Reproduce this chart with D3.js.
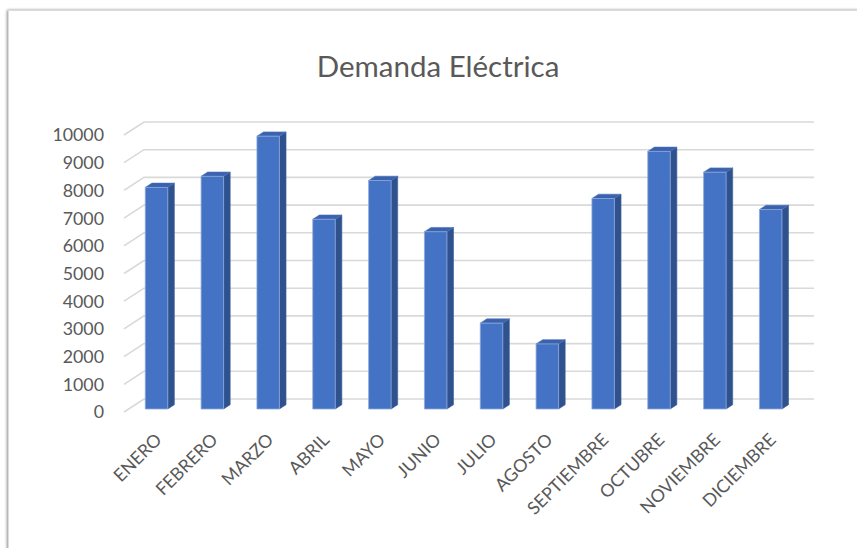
<!DOCTYPE html>
<html>
<head>
<meta charset="utf-8">
<script src="https://cdn.jsdelivr.net/npm/d3@7"></script>
<style>
  html, body { margin: 0; padding: 0; background: #ffffff; }
  svg { display: block; }
</style>
</head>
<body>
<svg id="chart" width="857" height="548"></svg>
<script>
// Monthly electricity demand
const months = ["ENERO", "FEBRERO", "MARZO", "ABRIL", "MAYO", "JUNIO",
                "JULIO", "AGOSTO", "SEPTIEMBRE", "OCTUBRE", "NOVIEMBRE", "DICIEMBRE"];
const demand = [8000, 8400, 9850, 6850, 8250, 6400, 3100, 2350, 7600, 9300, 8550, 7200];
const valueTicks = [0, 1000, 2000, 3000, 4000, 5000, 6000, 7000, 8000, 9000, 10000];
const chartTitle = "Demanda Eléctrica";

const svg = d3.select("#chart");
const W = 857, H = 548;

const font = "Lato, 'Open Sans', sans-serif";
const textColor = "#595959";
const gridColor = "#d9d9d9";

// Oblique projection: depth 0 = front edge of the floor, depth 1 = back wall
const depthVec = { dx: 20, dy: -13 };
const proj = (x, y, d) => [x + depthVec.dx * d, y + depthVec.dy * d];

// Scales on the front plane
const x = d3.scaleBand().domain(months).range([124, 794]).paddingInner(0).paddingOuter(0);
const y = d3.scaleLinear().domain([0, 10000]).range([412, 135]);

// Chart frame with a soft shadow on its left edge
const defs = svg.append("defs");
const shadow = defs.append("filter").attr("id", "frameShadow")
  .attr("x", "-5%").attr("y", "-5%").attr("width", "110%").attr("height", "110%");
shadow.append("feGaussianBlur").attr("in", "SourceAlpha").attr("stdDeviation", 1.6).attr("result", "blur");
shadow.append("feOffset").attr("in", "blur").attr("dx", -1.5).attr("dy", 0).attr("result", "off");
shadow.append("feComponentTransfer").attr("in", "off").attr("result", "soft")
  .append("feFuncA").attr("type", "linear").attr("slope", 0.45);
const merge = shadow.append("feMerge");
merge.append("feMergeNode").attr("in", "soft");
merge.append("feMergeNode").attr("in", "SourceGraphic");

svg.append("rect")
  .attr("x", 8.5).attr("y", 10.5)
  .attr("width", W + 20).attr("height", H + 20)
  .attr("fill", "#ffffff")
  .attr("stroke", "#dcdcdc").attr("stroke-width", 1)
  .attr("filter", "url(#frameShadow)");

// Title
svg.append("text")
  .attr("x", 438).attr("y", 77)
  .attr("text-anchor", "middle")
  .attr("font-family", font)
  .attr("font-size", 29.5)
  .attr("fill", textColor)
  .text(chartTitle);

// Gridlines: side wall (front -> back) and back wall (left -> right)
const grid = svg.append("g").attr("fill", "none").attr("stroke", gridColor).attr("stroke-width", 1.6);
const x0 = x.range()[0], x1 = x.range()[1];
valueTicks.forEach(v => {
  const a = [x0, y(v)];
  const b = proj(x0, y(v), 1);
  const c = proj(x1, y(v), 1);
  grid.append("path").attr("d", d3.line()([a, b, c]));
});

// Value axis labels
svg.append("g")
  .selectAll("text")
  .data(valueTicks)
  .join("text")
  .attr("x", 104)
  .attr("y", d => y(d))
  .attr("dy", "0.36em")
  .attr("text-anchor", "end")
  .attr("font-family", font)
  .attr("font-size", 17.8)
  .attr("fill", textColor)
  .text(d => d);

// 3D columns
const barFront = 0.23, barBack = 0.56;
const barWidth = 22.5;
const bars = svg.append("g");
months.forEach((m, i) => {
  const v = demand[i];
  const cx = x(m) + x.bandwidth() / 2;
  const xl = cx - barWidth / 2, xr = cx + barWidth / 2;
  const yb = y(0), yt = y(v);
  const fBL = proj(xl, yb, barFront), fBR = proj(xr, yb, barFront);
  const fTL = proj(xl, yt, barFront), fTR = proj(xr, yt, barFront);
  const bBR = proj(xr, yb, barBack);
  const bTL = proj(xl, yt, barBack), bTR = proj(xr, yt, barBack);
  const g = bars.append("g").attr("stroke-linejoin", "round");
  // side face
  g.append("path")
    .attr("d", d3.line()([fBR, fTR, bTR, bBR]) + "Z")
    .attr("fill", "#2f528f").attr("stroke", "#3b5f9e").attr("stroke-width", 0.6);
  // top face
  g.append("path")
    .attr("d", d3.line()([fTL, fTR, bTR, bTL]) + "Z")
    .attr("fill", "#3a62ae").attr("stroke", "#4a70b8").attr("stroke-width", 0.6);
  // front face
  g.append("path")
    .attr("d", d3.line()([fBL, fTL, fTR, fBR]) + "Z")
    .attr("fill", "#4472c4").attr("stroke", "#8eaadb").attr("stroke-width", 0.8);
});

// Category labels, rotated
svg.append("g")
  .selectAll("text")
  .data(months)
  .join("text")
  .attr("transform", d => `translate(${x(d) + x.bandwidth() / 2 + 11},441) rotate(-45)`)
  .attr("text-anchor", "end")
  .attr("font-family", font)
  .attr("font-size", 17.8)
  .attr("fill", textColor)
  .text(d => d);
</script>
</body>
</html>
